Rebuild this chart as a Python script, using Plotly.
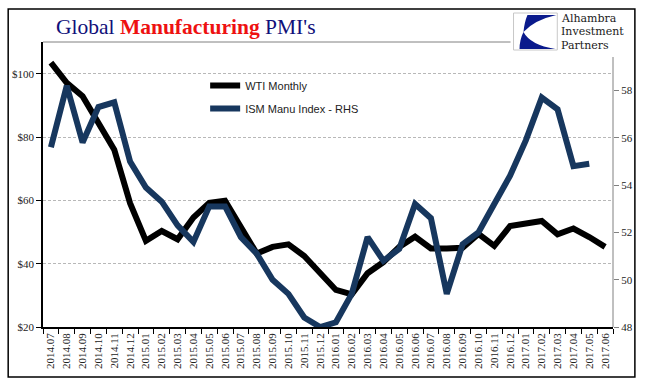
import plotly.graph_objects as go

months = ["2014.07","2014.08","2014.09","2014.10","2014.11","2014.12",
          "2015.01","2015.02","2015.03","2015.04","2015.05","2015.06",
          "2015.07","2015.08","2015.09","2015.10","2015.11","2015.12",
          "2016.01","2016.02","2016.03","2016.04","2016.05","2016.06",
          "2016.07","2016.08","2016.09","2016.10","2016.11","2016.12",
          "2017.01","2017.02","2017.03","2017.04","2017.05","2017.06"]

wti = [103.5, 97.1, 92.9, 84.4, 76.0, 59.1,
       47.2, 50.3, 47.7, 54.6, 59.2, 59.9,
       51.4, 43.2, 45.3, 46.1, 42.4, 37.0,
       31.7, 30.3, 37.0, 40.5, 45.3, 48.5,
       44.8, 44.8, 45.0, 49.4, 45.6, 51.9,
       52.6, 53.5, 49.3, 51.1, 48.4, 45.3]

ism = [55.6, 58.2, 55.8, 57.3, 57.5, 55.0,
       53.9, 53.3, 52.3, 51.6, 53.1, 53.1,
       51.8, 51.1, 50.0, 49.4, 48.4, 48.0,
       48.2, 49.4, 51.8, 50.8, 51.3, 53.2,
       52.6, 49.4, 51.5, 52.0, 53.2, 54.4,
       55.9, 57.7, 57.2, 54.8, 54.9, None]

left_ticks = [20, 40, 60, 80, 100]
left_labels = ["$20", "$40", "$60", "$80", "$100"]
right_ticks = [48, 50, 52, 54, 56, 58]

NAVY = "#17375E"
SERIF = "Liberation Serif"

fig = go.Figure()
fig.add_trace(go.Scatter(x=months, y=wti, name="WTI Monthly", mode="lines",
                         line=dict(color="black", width=6), legendgroup="a"))
fig.add_trace(go.Scatter(x=months, y=ism, name="ISM Manu Index - RHS", mode="lines",
                         line=dict(color=NAVY, width=6), yaxis="y2", legendgroup="b"))

W, H = 646, 392
L, R, T, B = 40, 33, 42, 65
pw, ph = W - L - R, H - T - B

def px(xp):
    return (xp - L) / pw

def py(yp):
    return (H - B - yp) / ph

shapes = [
    dict(type="rect", xref="paper", yref="paper", x0=px(5), x1=px(635), y0=py(377), y1=py(9),
         line=dict(color="black", width=1.5), fillcolor="rgba(0,0,0,0)", layer="below"),
    dict(type="line", xref="paper", yref="paper", x0=0, x1=px(510), y0=1, y1=1,
         line=dict(color="#808080", width=1)),
    dict(type="line", xref="paper", yref="paper", x0=1, x1=1, y0=0, y1=py(57),
         line=dict(color="#808080", width=1)),
    dict(type="rect", xref="paper", yref="paper", x0=px(513), x1=px(557), y0=py(50), y1=py(13),
         line=dict(color="#c8c8c8", width=1), fillcolor="white"),
]

def P(x, y):
    return f"{px(x):.4f},{py(y):.4f}"

upper = (f"M {P(527,15)} L {P(556,15)} Q {P(534,20)} {P(523,32)} Q {P(524,22)} {P(527,15)} Z")
lower = (f"M {P(523,32)} Q {P(530,45)} {P(555,49)} L {P(519,49)} Q {P(519,40)} {P(523,32)} Z")
shapes.append(dict(type="path", xref="paper", yref="paper", path=upper,
                   fillcolor="#0a1a8c", line=dict(width=0)))
shapes.append(dict(type="path", xref="paper", yref="paper", path=lower,
                   fillcolor="#0a1a8c", line=dict(width=0)))

annotations = [
    dict(xref="paper", yref="paper", x=px(51), y=py(27), xanchor="left", yanchor="middle",
         showarrow=False,
         text="<span style='color:#10107a'>Global </span><b><span style='color:#ee1111'>Manufacturing</span></b><span style='color:#10107a'> PMI's</span>",
         font=dict(family=SERIF, size=21.5)),
]
for txt, yy in [("Alhambra", 19), ("Investment", 32), ("Partners", 45)]:
    annotations.append(dict(xref="paper", yref="paper", x=px(560), y=py(yy), xanchor="left",
                            yanchor="middle", showarrow=False, text=txt, borderpad=0,
                            font=dict(family="DejaVu Serif", size=11, color="#1a1a1a")))

fig.update_layout(
    width=W, height=H,
    margin=dict(l=L, r=R, t=T, b=B),
    paper_bgcolor="white", plot_bgcolor="white",
    showlegend=True,
    legend=dict(x=px(203), y=py(71), xanchor="left", yanchor="top",
                bgcolor="rgba(0,0,0,0)", font=dict(family="Liberation Sans", size=11, color="#222222"),
                traceorder="grouped", tracegroupgap=4, itemwidth=30),
    xaxis=dict(type="category", tickson="boundaries", ticks="outside", ticklen=5,
               tickcolor="black", showline=True, linecolor="black", linewidth=1.5,
               tickangle=-90, tickfont=dict(family=SERIF, size=11, color="#222222"),
               showgrid=False, range=[-0.5, 35.5]),
    yaxis=dict(range=[20, 110], tickvals=left_ticks, ticktext=left_labels,
               ticks="outside", ticklen=5, tickcolor="black",
               showline=True, linecolor="black", linewidth=1.5,
               tickfont=dict(family=SERIF, size=11, color="#222222"),
               showgrid=True, gridcolor="#b8b8b8", griddash="3px,2px", gridwidth=1,
               zeroline=False),
    yaxis2=dict(range=[48, 60.05], tickvals=right_ticks, overlaying="y", side="right",
                ticks="outside", ticklen=5, tickcolor="#808080", showline=False,
                tickfont=dict(family=SERIF, size=11, color="#222222"),
                showgrid=False, zeroline=False),
    shapes=shapes,
    annotations=annotations,
)

fig.write_html("out.html", config={"displayModeBar": False},
               post_script="document.body.style.margin='0px';")
